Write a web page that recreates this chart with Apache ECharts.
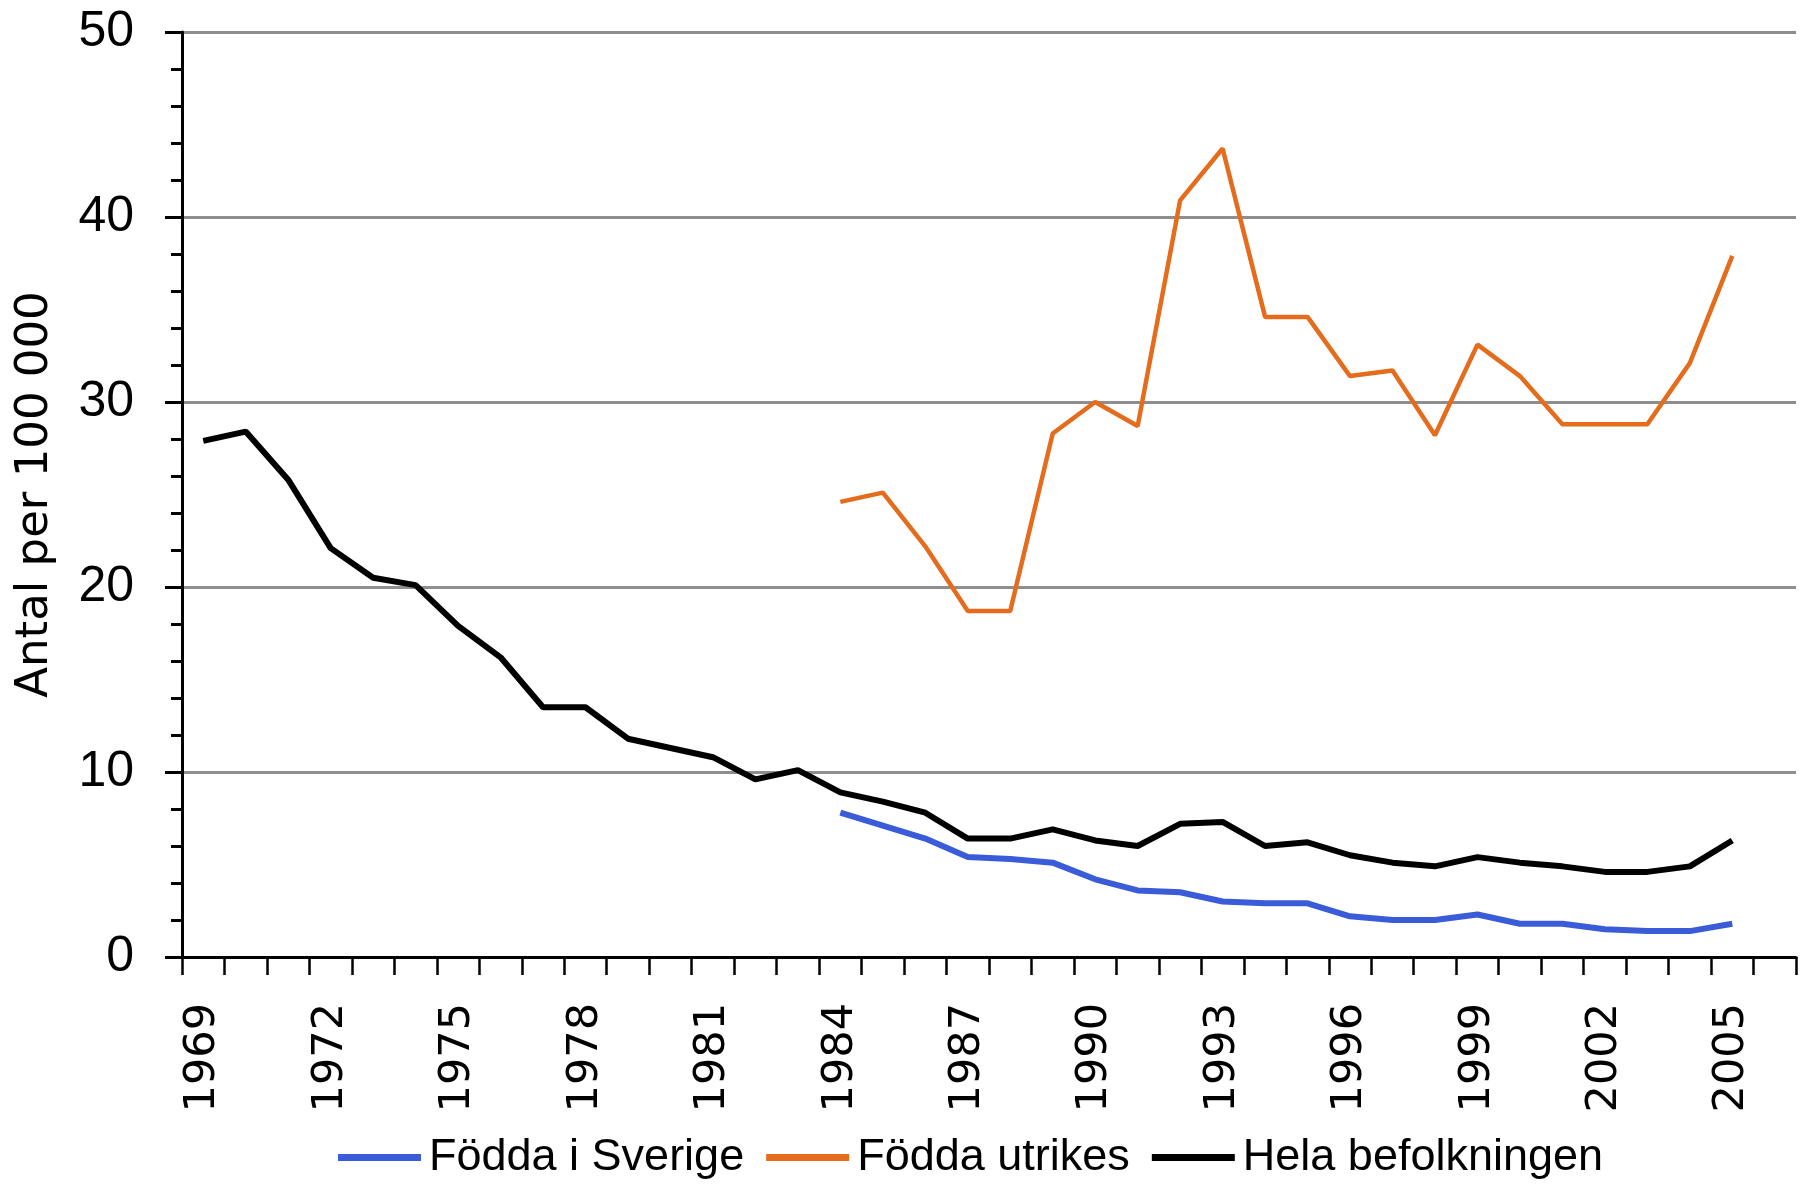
<!DOCTYPE html>
<html>
<head>
<meta charset="utf-8">
<script src="https://cdn.jsdelivr.net/npm/echarts@6/dist/echarts.min.js"></script>
<style>
  html, body { margin: 0; padding: 0; background: #ffffff; }
  #chart { width: 1803px; height: 1184px; }
</style>
</head>
<body>
<div id="chart"></div>
<script>
// Categories (1969..2006; 2006 is an empty slot at the right edge)
const years = ["1969","1970","1971","1972","1973","1974","1975","1976","1977","1978",
  "1979","1980","1981","1982","1983","1984","1985","1986","1987","1988","1989","1990",
  "1991","1992","1993","1994","1995","1996","1997","1998","1999","2000","2001","2002",
  "2003","2004","2005","2006"];

// Födda i Sverige (1984–2005)
const foddaSverige = [null,null,null,null,null,null,null,null,null,null,null,null,null,null,null,
  7.8, 7.1, 6.4, 5.4, 5.3, 5.1, 4.2, 3.6, 3.5, 3.0, 2.9, 2.9, 2.2, 2.0, 2.0, 2.3, 1.8, 1.8, 1.5, 1.4, 1.4, 1.8, null];

// Födda utrikes (1984–2005)
const foddaUtrikes = [null,null,null,null,null,null,null,null,null,null,null,null,null,null,null,
  24.6, 25.1, 22.2, 18.7, 18.7, 28.3, 30.0, 28.7, 40.9, 43.7, 34.6, 34.6, 31.4, 31.7, 28.2, 33.1, 31.4, 28.8, 28.8, 28.8, 32.1, 37.9, null];

// Hela befolkningen (1969–2005)
const helaBefolkningen = [27.9, 28.4, 25.8, 22.1, 20.5, 20.1, 17.9, 16.2, 13.5, 13.5, 11.8, 11.3, 10.8, 9.6, 10.1,
  8.9, 8.4, 7.8, 6.4, 6.4, 6.9, 6.3, 6.0, 7.2, 7.3, 6.0, 6.2, 5.5, 5.1, 4.9, 5.4, 5.1, 4.9, 4.6, 4.6, 4.9, 6.3, null];

const seriesNames = ["Födda i Sverige", "Födda utrikes", "Hela befolkningen"];
const yTicks = { min: 0, max: 50, interval: 10 };
const yTitle = "Antal per 100 000";

const chart = echarts.init(document.getElementById('chart'), null, { renderer: 'canvas' });

const sans = '"Liberation Sans", Arial, sans-serif';

chart.setOption({
  animation: false,
  backgroundColor: '#ffffff',
  grid: { left: 182, right: 7, top: 32, bottom: 227, containLabel: false },
  legend: {
    data: seriesNames,
    left: 333,
    top: 1130,
    icon: 'rect',
    itemWidth: 83,
    itemHeight: 7,
    itemGap: 22,
    textStyle: { fontFamily: sans, fontSize: 45, color: '#000000', padding: [0, 0, 0, 3] }
  },
  xAxis: {
    type: 'category',
    data: years,
    boundaryGap: true,
    axisLine: { lineStyle: { color: '#000000', width: 3 } },
    axisTick: { show: true, interval: 0, length: 18, lineStyle: { color: '#000000', width: 2.5 } },
    axisLabel: {
      interval: 2,
      rotate: 90,
      margin: 46,
      fontFamily: '"DejaVu Sans", sans-serif',
      fontSize: 43,
      color: '#000000'
    },
    splitLine: { show: false }
  },
  yAxis: {
    type: 'value',
    min: yTicks.min,
    max: yTicks.max,
    interval: yTicks.interval,
    name: yTitle,
    nameLocation: 'middle',
    nameGap: 124,
    nameTextStyle: { fontFamily: '"DejaVu Sans", sans-serif', fontSize: 45, color: '#000000' },
    axisLine: { show: true, lineStyle: { color: '#000000', width: 3 } },
    axisTick: { show: true, length: 17, lineStyle: { color: '#000000', width: 3 } },
    minorTick: { show: true, splitNumber: 5, length: 11, lineStyle: { color: '#000000', width: 3 } },
    axisLabel: { margin: 48, fontFamily: sans, fontSize: 50, color: '#000000' },
    splitLine: { show: true, lineStyle: { color: '#8e8e8e', width: 3 } }
  },
  series: [
    {
      name: seriesNames[0], type: 'line', data: foddaSverige, showSymbol: false, connectNulls: false,
      color: '#3a5cd8', lineStyle: { color: '#3a5cd8', width: 6 }, z: 2
    },
    {
      name: seriesNames[1], type: 'line', data: foddaUtrikes, showSymbol: false, connectNulls: false,
      color: '#e46c1c', lineStyle: { color: '#e46c1c', width: 4.5 }, z: 3
    },
    {
      name: seriesNames[2], type: 'line', data: helaBefolkningen, showSymbol: false, connectNulls: false,
      color: '#000000', lineStyle: { color: '#000000', width: 6 }, z: 4
    }
  ]
});
</script>
</body>
</html>
